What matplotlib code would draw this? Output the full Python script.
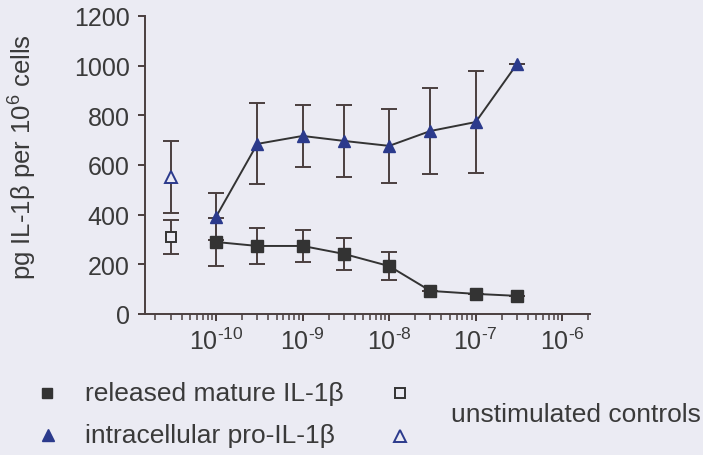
import numpy as np
import matplotlib.pyplot as plt
from matplotlib.lines import Line2D

# концентрации (M)
conc = [1e-10, 3e-10, 1e-9, 3e-9, 1e-8, 3e-8, 1e-7, 3e-7]
ctrl_x = 3e-11

# released mature IL-1b (squares)
mature = [290, 274, 274, 242, 193, 93, 81, 73]
mature_err = [97, 72, 64, 65, 58, 0, 0, 0]

# intracellular pro-IL-1b (triangles)
pro = [391, 685, 717, 697, 677, 737, 773, 1007]
pro_err = [95, 163, 125, 145, 150, 175, 205, 0]

# unstimulated controls
ctrl_mature, ctrl_mature_err = 310, 70
ctrl_pro, ctrl_pro_err = 552, 145

xtick_exp = [-10, -9, -8, -7, -6]

bg = '#ebebf3'
navy = '#2b3a8c'
dark = '#333333'
ecol = '#4a3f3f'
tcol = '#3a3a3a'

plt.rcParams['font.family'] = ['Liberation Sans', 'DejaVu Sans']
plt.rcParams['mathtext.fontset'] = 'custom'
plt.rcParams['mathtext.rm'] = 'Liberation Sans'

W, H = 703, 456
fig = plt.figure(figsize=(W / 100, H / 100), dpi=100, facecolor=bg)
ax = fig.add_axes([145 / W, 1 - 315 / H, 445 / W, 298 / H], facecolor=bg)

eb = dict(elinewidth=1.4, capsize=5.5, capthick=1.4, ecolor=ecol, zorder=3)
ax.errorbar(conc, pro, yerr=pro_err, color=dark, lw=1.4, marker='^',
            mfc=navy, mec=navy, ms=9, **eb)
ax.errorbar(conc, mature, yerr=mature_err, color=dark, lw=1.4, marker='s',
            mfc=dark, mec=dark, ms=8, **eb)
ax.errorbar([ctrl_x], [ctrl_pro], yerr=[ctrl_pro_err], marker='^',
            mfc=bg, mec=navy, mew=1.4, ms=9, ls='none', **eb)
ax.errorbar([ctrl_x], [ctrl_mature], yerr=[ctrl_mature_err], marker='s',
            mfc=bg, mec=dark, mew=1.4, ms=7, ls='none', **eb)

ax.set_xscale('log')
ax.set_xlim(10**-10.82, 10**-5.68)
ax.set_ylim(0, 1200)
ax.set_yticks(range(0, 1201, 200))
ax.set_xticks([10.0**e for e in xtick_exp])
ax.set_xticklabels(['10$^{\\mathdefault{\u2010%d}}$' % -e for e in xtick_exp])
for s in ['top', 'right']:
    ax.spines[s].set_visible(False)
for s in ['left', 'bottom']:
    ax.spines[s].set_color(ecol)
    ax.spines[s].set_linewidth(1.4)
ax.tick_params(axis='both', which='major', colors=ecol, width=1.4, length=5,
               labelsize=18, labelcolor=tcol)
ax.tick_params(axis='x', which='minor', colors=ecol, width=1.1, length=4)
ax.tick_params(axis='x', pad=5)
ax.tick_params(axis='y', pad=6)
ax.set_ylabel('pg IL-1β per 10$^{\\mathdefault{6}}$ cells', fontsize=18.5,
              color=tcol)
ax.yaxis.set_label_coords(38 / W, 1 - 157 / H, transform=fig.transFigure)

# legend
def fy(y):
    return 1 - y / H

fig.add_artist(Line2D([47 / W], [fy(394)], marker='s', color=dark, ms=7.5,
                      ls='none', transform=fig.transFigure))
fig.text(85 / W, fy(394), 'released mature IL-1β', fontsize=19,
         color=tcol, va='center')
fig.add_artist(Line2D([400 / W], [fy(394)], marker='s', mfc=bg, mec=dark,
                      mew=1.4, ms=7.5, ls='none', transform=fig.transFigure))
fig.add_artist(Line2D([48 / W], [fy(436)], marker='^', color=navy, ms=9,
                      ls='none', transform=fig.transFigure))
fig.text(85 / W, fy(436), 'intracellular pro-IL-1β', fontsize=19,
         color=tcol, va='center')
fig.add_artist(Line2D([400 / W], [fy(437)], marker='^', mfc=bg, mec=navy,
                      mew=1.4, ms=9, ls='none', transform=fig.transFigure))
fig.text(451 / W, fy(415), 'unstimulated controls', fontsize=19,
         color=tcol, va='center')

fig.savefig('out.png', dpi=100, facecolor=bg)
